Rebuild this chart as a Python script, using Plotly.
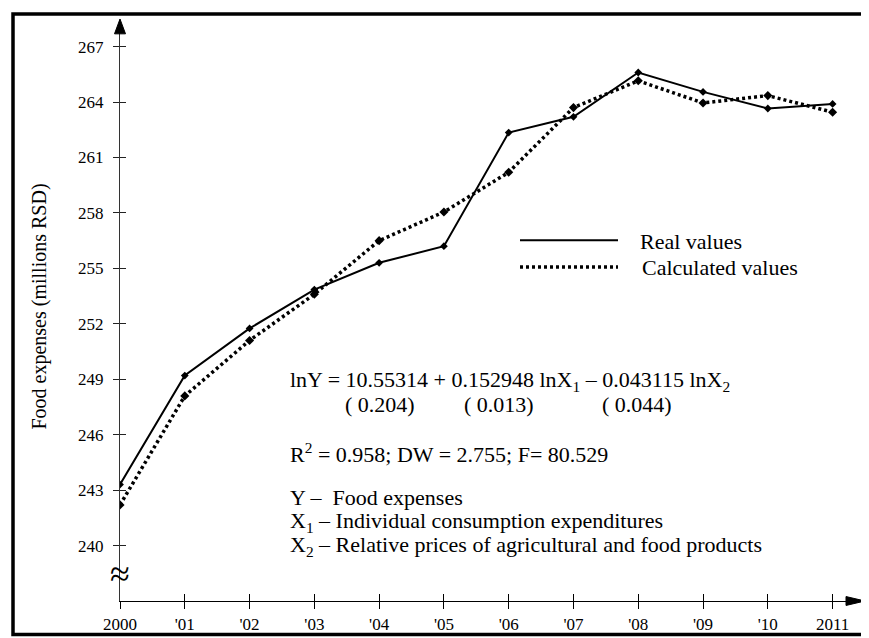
import plotly.graph_objects as go

years = list(range(2000, 2012))
year_labels = ["2000", "'01", "'02", "'03", "'04", "'05", "'06", "'07", "'08", "'09", "'10", "2011"]
real_values = [243.3, 249.2, 251.75, 253.85, 255.3, 256.2, 262.35, 263.2, 265.6, 264.55, 263.65, 263.9]
calc_values = [242.2, 248.1, 251.1, 253.6, 256.5, 258.05, 260.2, 263.7, 265.15, 263.95, 264.35, 263.45]
y_ticks = [240, 243, 246, 249, 252, 255, 258, 261, 264, 267]

W, H = 869, 638
L, R, T, B = 112, 857, 12, 600
FONT = "Liberation Serif, Times New Roman, serif"


def px(x):
    return (x - L) / (R - L)


def py(y):
    return (B - y) / (B - T)


fig = go.Figure()
fig.add_trace(go.Scatter(
    x=years, y=real_values, mode="lines+markers", name="Real values",
    line=dict(color="black", width=2),
    marker=dict(symbol="diamond", size=6, color="black"),
    showlegend=False, xaxis="x", yaxis="y"))
fig.add_trace(go.Scatter(
    x=years, y=calc_values, mode="lines+markers", name="Calculated values",
    line=dict(color="black", width=3.5, dash="3px,3px"),
    marker=dict(symbol="diamond", size=7, color="black"),
    showlegend=False, xaxis="x2", yaxis="y2"))

xr = [2000, 2011.5]
yr = [237.0, 268.44]
common_x = dict(range=xr, tickvals=years, showgrid=False, zeroline=False,
                showline=True, linecolor="black", linewidth=1.4,
                tickcolor="black", tickwidth=1.2, ticklen=7)
common_y = dict(range=yr, tickvals=y_ticks, showgrid=False, zeroline=False,
                showline=True, linecolor="#333333", linewidth=1.1,
                tickcolor="#222222", tickwidth=1.1, ticklen=6)

fig.update_layout(
    width=W, height=H, autosize=False,
    margin=dict(l=L, r=W - R, t=T, b=H - B, pad=0),
    paper_bgcolor="white", plot_bgcolor="white",
    font=dict(family=FONT, color="black", size=16),
    xaxis=dict(**common_x, ticks="outside", ticktext=year_labels,
               tickfont=dict(family=FONT, size=17, color="black")),
    yaxis=dict(**common_y, ticks="outside", ticklabelstandoff=6,
               tickfont=dict(family=FONT, size=17, color="black")),
    xaxis2=dict(**common_x, ticks="inside", showticklabels=False,
                overlaying="x", anchor="y2", side="bottom"),
    yaxis2=dict(**common_y, ticks="inside", showticklabels=False,
                overlaying="y", anchor="x2", side="left"),
    showlegend=False,
)

shapes = []
# outer frame
shapes.append(dict(type="rect", xref="paper", yref="paper",
                   x0=px(5), x1=px(865), y0=py(6), y1=py(634),
                   line=dict(color="black", width=3.5), fillcolor="rgba(0,0,0,0)"))
# axis arrows
shapes.append(dict(type="path", xref="paper", yref="paper",
                   path=f"M {px(106.5)} {py(26)} L {px(112)} {py(11)} L {px(117.5)} {py(26)} Z",
                   fillcolor="black", line=dict(color="black", width=1)))
shapes.append(dict(type="path", xref="paper", yref="paper",
                   path=f"M {px(838)} {py(595.5)} L {px(857)} {py(600)} L {px(838)} {py(604.5)} Z",
                   fillcolor="black", line=dict(color="black", width=1)))
# legend samples
shapes.append(dict(type="line", xref="paper", yref="paper",
                   x0=px(512), x1=px(610), y0=py(235), y1=py(235),
                   line=dict(color="black", width=2)))
shapes.append(dict(type="line", xref="paper", yref="paper",
                   x0=px(512), x1=px(610), y0=py(262), y1=py(262),
                   line=dict(color="black", width=3.5, dash="3px,3px")))
fig.update_layout(shapes=shapes)

TS = 22
ann = []


def text(x, y, s, size=TS, **kw):
    ann.append(dict(x=px(x), y=py(y), xref="paper", yref="paper", text=s,
                    showarrow=False, xanchor=kw.get("xanchor", "left"),
                    yanchor="middle", textangle=kw.get("angle", 0),
                    font=dict(family=FONT, size=size, color="black")))


text(630, 236, "Real values")
text(632, 262, "Calculated values")
text(280, 377, "lnY = 10.55314 + 0.152948 lnX<sub>1</sub> – 0.043115 lnX<sub>2</sub>")
text(335, 401, "( 0.204)")
text(454, 401, "( 0.013)")
text(592, 401, "( 0.044)")
text(280, 450, "R<sup>2</sup> = 0.958; DW = 2.755; F= 80.529")
text(280, 495, "Y –  Food expenses")
text(280, 520, "X<sub>1</sub> – Individual consumption expenditures")
text(280, 544, "X<sub>2</sub> – Relative prices of agricultural and food products")
text(32, 302, "Food expenses (millions RSD)", size=20, xanchor="center", angle=-90)
text(112, 573, "≈", size=36, xanchor="center")
fig.update_layout(annotations=ann)

fig.write_html("out.html")
